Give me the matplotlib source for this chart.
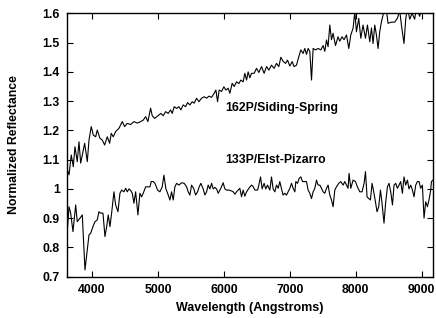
import matplotlib
matplotlib.use("Agg")
import matplotlib.pyplot as plt
from matplotlib.ticker import FuncFormatter

# 162P/Siding-Spring spectrum (wavelength in Angstroms, normalized reflectance)
wave_162p = [3620, 3652, 3686, 3717, 3742, 3777, 3803, 3829, 3868, 3889,
             3929, 3955, 3989, 4020, 4056, 4080, 4121, 4156, 4192, 4232,
             4268, 4292, 4323, 4359, 4409, 4459, 4495, 4535, 4586, 4636,
             4686, 4738, 4777, 4814, 4848, 4889, 4914, 4950, 4995, 5045,
             5080, 5117, 5156, 5192, 5217, 5247, 5283, 5318, 5348, 5383,
             5420, 5450, 5485, 5520, 5550, 5586, 5621, 5662, 5701, 5738,
             5773, 5814, 5853, 5879, 5904, 5929, 5965, 6000, 6030, 6065,
             6091, 6126, 6156, 6192, 6227, 6258, 6292, 6318, 6344, 6368,
             6394, 6419, 6459, 6495, 6530, 6571, 6610, 6647, 6682, 6722,
             6762, 6798, 6833, 6864, 6898, 6935, 6965, 7000, 7035, 7065,
             7101, 7136, 7167, 7201, 7227, 7253, 7277, 7303, 7329, 7353,
             7389, 7429, 7470, 7505, 7530, 7556, 7580, 7606, 7632, 7656,
             7692, 7731, 7757, 7792, 7822, 7859, 7894, 7924, 7959, 7985,
             8010, 8045, 8076, 8110, 8147, 8177, 8212, 8238, 8262, 8288,
             8313, 8338, 8363, 8389, 8413, 8439, 8465, 8489, 8540, 8590,
             8631, 8666, 8692, 8731, 8757, 8783, 8818, 8853, 8893, 8919,
             8969, 8995, 9030, 9076, 9121, 9170]
refl_162p = [1.070, 1.048, 1.116, 1.076, 1.144, 1.093, 1.161, 1.088, 1.133, 1.156,
             1.093, 1.167, 1.213, 1.184, 1.178, 1.201, 1.173, 1.167, 1.150, 1.178,
             1.156, 1.190, 1.178, 1.196, 1.207, 1.230, 1.213, 1.224, 1.220, 1.230,
             1.225, 1.230, 1.235, 1.247, 1.230, 1.276, 1.250, 1.241, 1.249, 1.258,
             1.250, 1.264, 1.258, 1.270, 1.258, 1.281, 1.275, 1.281, 1.270, 1.287,
             1.281, 1.295, 1.287, 1.298, 1.293, 1.310, 1.298, 1.310, 1.315, 1.310,
             1.317, 1.313, 1.327, 1.338, 1.298, 1.338, 1.333, 1.349, 1.338, 1.344,
             1.327, 1.361, 1.350, 1.366, 1.360, 1.372, 1.366, 1.395, 1.372, 1.400,
             1.380, 1.395, 1.395, 1.412, 1.398, 1.418, 1.395, 1.418, 1.406, 1.423,
             1.412, 1.429, 1.418, 1.450, 1.436, 1.429, 1.440, 1.420, 1.435, 1.418,
             1.423, 1.452, 1.475, 1.463, 1.480, 1.460, 1.480, 1.470, 1.372, 1.480,
             1.475, 1.480, 1.475, 1.490, 1.470, 1.509, 1.486, 1.560, 1.510, 1.532,
             1.490, 1.520, 1.505, 1.520, 1.510, 1.526, 1.480, 1.526, 1.549, 1.605,
             1.537, 1.583, 1.515, 1.560, 1.515, 1.560, 1.503, 1.550, 1.497, 1.560,
             1.526, 1.480, 1.537, 1.571, 1.594, 1.615, 1.610, 1.566, 1.570, 1.570,
             1.583, 1.610, 1.560, 1.497, 1.580, 1.620, 1.580, 1.600, 1.580, 1.620,
             1.590, 1.620, 1.630, 1.650, 1.640, 1.660]

# 133P/Elst-Pizarro spectrum
wave_133p = [3620, 3652, 3677, 3712, 3753, 3777, 3818, 3853, 3894, 3929,
             3955, 3980, 4015, 4045, 4080, 4106, 4132, 4167, 4197, 4223,
             4247, 4273, 4298, 4333, 4359, 4394, 4424, 4450, 4485, 4511,
             4535, 4561, 4586, 4611, 4636, 4662, 4697, 4727, 4753, 4777,
             4814, 4838, 4879, 4898, 4929, 4955, 4995, 5030, 5065, 5091,
             5121, 5147, 5182, 5207, 5232, 5257, 5283, 5318, 5359, 5398,
             5435, 5459, 5485, 5510, 5545, 5571, 5601, 5626, 5651, 5686,
             5712, 5738, 5762, 5788, 5814, 5838, 5864, 5889, 5914, 5954,
             5989, 6015, 6041, 6076, 6116, 6141, 6167, 6192, 6217, 6242,
             6268, 6292, 6318, 6344, 6379, 6419, 6444, 6470, 6511, 6530,
             6556, 6580, 6610, 6636, 6662, 6697, 6722, 6747, 6773, 6798,
             6823, 6848, 6874, 6898, 6924, 6950, 6974, 7000, 7026, 7050,
             7076, 7091, 7117, 7141, 7167, 7192, 7217, 7253, 7277, 7303,
             7329, 7353, 7379, 7404, 7429, 7455, 7480, 7505, 7530, 7556,
             7580, 7606, 7632, 7656, 7682, 7707, 7742, 7773, 7808, 7833,
             7859, 7883, 7898, 7924, 7959, 7995, 8025, 8061, 8095, 8126,
             8147, 8171, 8197, 8222, 8247, 8272, 8298, 8322, 8348, 8374,
             8398, 8428, 8454, 8480, 8504, 8530, 8556, 8580, 8606, 8631,
             8656, 8681, 8707, 8731, 8757, 8783, 8807, 8833, 8859, 8883,
             8909, 8934, 8959, 8984, 9010, 9035, 9060, 9086, 9110, 9136,
             9147, 9170]
refl_133p = [0.837, 0.939, 0.917, 0.854, 0.945, 0.888, 0.900, 0.911, 0.723, 0.792,
             0.843, 0.848, 0.871, 0.888, 0.894, 0.922, 0.917, 0.917, 0.837, 0.871,
             0.911, 0.871, 0.917, 0.990, 0.945, 0.922, 0.985, 0.996, 0.990, 1.002,
             0.990, 1.000, 0.995, 0.985, 0.951, 0.990, 0.911, 0.985, 0.973, 0.985,
             1.007, 1.007, 1.007, 1.025, 1.025, 1.019, 0.996, 0.990, 1.007, 1.047,
             1.000, 0.985, 0.962, 0.990, 0.962, 1.007, 1.019, 1.013, 1.021, 1.019,
             1.007, 0.990, 0.979, 1.013, 1.000, 0.979, 0.990, 1.007, 1.019, 1.000,
             0.979, 0.990, 1.013, 1.000, 1.019, 1.000, 1.005, 1.000, 0.985, 1.002,
             1.021, 1.000, 0.996, 0.996, 0.993, 0.990, 0.982, 0.990, 0.996, 1.002,
             0.973, 0.996, 0.975, 0.990, 1.002, 1.013, 1.008, 0.996, 0.996, 1.013,
             1.041, 1.000, 1.019, 1.000, 1.013, 0.996, 1.041, 1.000, 0.990, 1.013,
             1.002, 1.025, 1.000, 0.979, 0.985, 0.979, 0.990, 1.002, 1.019, 1.002,
             0.990, 1.025, 1.019, 1.036, 1.041, 1.025, 1.025, 1.025, 0.996, 0.985,
             0.967, 0.990, 1.002, 1.030, 1.013, 1.013, 1.002, 0.990, 0.985, 1.002,
             1.013, 0.979, 0.962, 0.939, 0.996, 1.007, 1.019, 1.025, 1.013, 1.025,
             1.013, 1.002, 1.053, 1.002, 1.030, 1.025, 1.007, 0.990, 0.990, 1.019,
             1.059, 0.973, 0.967, 0.962, 1.019, 0.990, 0.956, 0.922, 0.939, 0.996,
             0.951, 0.883, 0.956, 1.007, 1.019, 0.990, 0.945, 1.013, 1.019, 1.002,
             1.013, 1.025, 0.985, 1.041, 1.013, 1.030, 1.000, 1.013, 0.996, 0.973,
             1.013, 1.025, 1.025, 1.002, 1.013, 0.900, 0.956, 0.939, 0.962, 0.996,
             1.025, 1.030]

x_ticks = [4000, 5000, 6000, 7000, 8000, 9000]
y_ticks = [0.7, 0.8, 0.9, 1.0, 1.1, 1.2, 1.3, 1.4, 1.5, 1.6]

plt.rcParams['font.family'] = ['Liberation Sans', 'DejaVu Sans']
plt.rcParams['font.weight'] = 'bold'

fig = plt.figure(figsize=(4.36, 3.18), dpi=100)
ax = fig.add_axes([0.153, 0.130, 0.840, 0.828])

ax.plot(wave_162p, refl_162p, color="black", lw=0.8)
ax.plot(wave_133p, refl_133p, color="black", lw=0.8)

ax.text(6015, 1.276, "162P/Siding-Spring", fontsize=8.8, fontweight="bold", va="center")
ax.text(6015, 1.099, "133P/Elst-Pizarro", fontsize=8.8, fontweight="bold", va="center")

ax.set_xlim(3617, 9170)
ax.set_ylim(0.7, 1.6)
ax.set_xticks(x_ticks)
ax.set_yticks(y_ticks)
ax.yaxis.set_major_formatter(FuncFormatter(lambda v, p: "%g" % round(v, 2)))
ax.tick_params(direction="in", top=True, right=True, length=4, width=0.8,
               labelsize=8.8, pad=5)
for lab in ax.get_xticklabels() + ax.get_yticklabels():
    lab.set_fontweight("bold")
for s in ax.spines.values():
    s.set_linewidth(1.0)

ax.set_xlabel("Wavelength (Angstroms)", fontsize=9, fontweight="bold")
ax.set_ylabel("Normalized Reflectance", fontsize=8.8, fontweight="bold")
ax.xaxis.set_label_coords(0.5, -0.095)
ax.yaxis.set_label_coords(-0.128, 0.5)

fig.savefig("out.png", dpi=100)
